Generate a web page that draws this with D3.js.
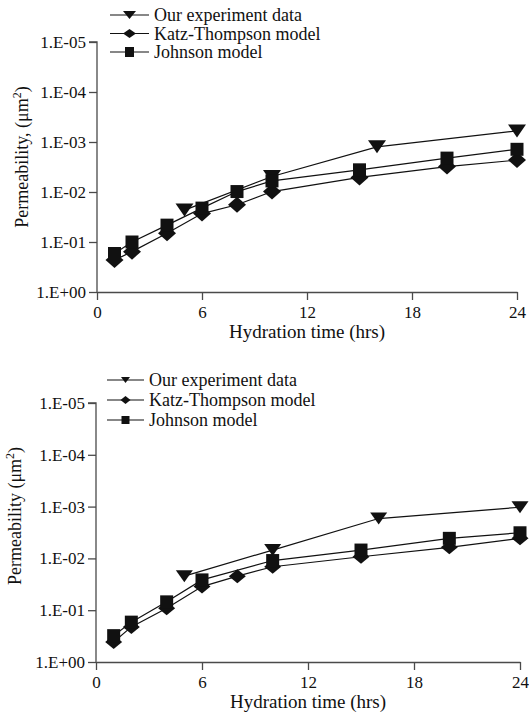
<!DOCTYPE html>
<html>
<head>
<meta charset="utf-8">
<script src="https://cdn.jsdelivr.net/npm/d3@7"></script>
<style>
  html, body { margin: 0; padding: 0; background: #fff; }
  svg { display: block; font-family: "Liberation Serif", "DejaVu Serif", serif; }
</style>
</head>
<body>
<svg id="chart" width="529" height="714"></svg>
<script>
// ---------- data ----------
const seriesNames = ["Our experiment data", "Katz-Thompson model", "Johnson model"];
const xTicks = [0, 6, 12, 18, 24];
const yTicks = [1, 1e-1, 1e-2, 1e-3, 1e-4, 1e-5];
const yTickLabels = ["1.E+00", "1.E-01", "1.E-02", "1.E-03", "1.E-04", "1.E-05"];

// top panel
const topExpHours = [5, 10, 16, 24];
const topExpValues = [0.023, 0.0049, 0.00125, 0.0006];
const topKatzHours = [1, 2, 4, 6, 8, 10, 15, 20, 24];
const topKatzValues = [0.23, 0.156, 0.067, 0.027, 0.018, 0.0098, 0.0051, 0.0031, 0.0023];
const topJohnHours = [1, 2, 4, 6, 8, 10, 15, 20, 24];
const topJohnValues = [0.17, 0.1, 0.046, 0.021, 0.0098, 0.006, 0.0036, 0.0021, 0.0014];

// bottom panel
const botExpHours = [5, 10, 16, 24];
const botExpValues = [0.022, 0.0069, 0.0017, 0.00103];
const botKatzHours = [1, 2, 4, 6, 8, 10, 15, 20, 24];
const botKatzValues = [0.41, 0.21, 0.092, 0.035, 0.022, 0.0145, 0.0093, 0.0061, 0.0041];
const botJohnHours = [1, 2, 4, 6, 10, 15, 20, 24];
const botJohnValues = [0.31, 0.17, 0.069, 0.026, 0.011, 0.0069, 0.0041, 0.0032];

// ---------- drawing ----------
const FONT = "Liberation Serif, DejaVu Serif, serif";
const svg = d3.select("#chart");
const AXIS = "#4a4a4a";
const INK = "#111";

function markerPath(type, w, h) {
  if (type === "tri") return `M${-w/2},${-h/2}L${w/2},${-h/2}L0,${h/2}Z`;
  if (type === "dia") return `M0,${-h/2}L${w/2},0L0,${h/2}L${-w/2},0Z`;
  return `M${-w/2},${-h/2}L${w/2},${-h/2}L${w/2},${h/2}L${-w/2},${h/2}Z`;
}

function drawPanel(cfg) {
  const g = svg.append("g");
  const x = d3.scaleLinear().domain([0, 24]).range([cfg.x0, cfg.x1]);
  const y = d3.scaleLog().domain([1, 1e-5]).range([cfg.yBottom, cfg.yTop]);

  // axes
  const yAxis = d3.axisLeft(y).tickValues(yTicks)
    .tickFormat((d, i) => yTickLabels[i]).tickSize(8).tickPadding(3);
  const gy = g.append("g").attr("transform", `translate(${cfg.x0},0)`).call(yAxis)
    .attr("font-family", FONT);
  gy.select(".domain").attr("stroke", AXIS).attr("stroke-width", 1.3)
    .attr("d", `M-8,${cfg.yTop}H0V${cfg.yBottom}`);
  gy.selectAll(".tick line").attr("stroke", AXIS).attr("stroke-width", 1.3);
  gy.selectAll(".tick text").attr("font-size", 17).attr("fill", INK);

  const xAxis = d3.axisBottom(x).tickValues(xTicks).tickSize(8).tickSizeOuter(0);
  const gx = g.append("g").attr("transform", `translate(0,${cfg.yBottom})`).call(xAxis)
    .attr("font-family", FONT);
  gx.select(".domain").attr("stroke", AXIS).attr("stroke-width", 1.3);
  gx.selectAll(".tick line").attr("stroke", AXIS).attr("stroke-width", 1.3);
  gx.selectAll(".tick text").attr("font-size", 17).attr("fill", INK)
    .attr("y", 26).attr("dy", 0);

  // axis titles
  g.append("text").attr("x", (cfg.x0 + cfg.x1) / 2).attr("y", cfg.yBottom + 46)
    .attr("text-anchor", "middle").attr("font-size", 19).attr("fill", INK)
    .attr("font-family", FONT).text("Hydration time (hrs)");
  const yt = g.append("text")
    .attr("transform", `translate(${cfg.ytX},${cfg.ytY}) rotate(-90)`)
    .attr("text-anchor", "middle").attr("font-size", 18).attr("fill", INK)
    .attr("font-family", FONT);
  yt.append("tspan").text(cfg.yTitle);
  yt.append("tspan").attr("font-size", 12).attr("dy", -7).text("2");
  yt.append("tspan").attr("dy", 7).text(")");

  // series
  const line = d3.line().x(d => x(d[0])).y(d => y(d[1]));
  cfg.series.forEach(s => {
    const pts = s.hours.map((h, i) => [h, s.values[i]]);
    g.append("path").datum(pts).attr("d", line)
      .attr("fill", "none").attr("stroke", INK).attr("stroke-width", 1.2);
  });
  cfg.series.forEach(s => {
    const pts = s.hours.map((h, i) => [h, s.values[i]]);
    g.selectAll(null).data(pts).enter().append("path")
      .attr("transform", d => `translate(${x(d[0])},${y(d[1])})`)
      .attr("d", markerPath(s.type, s.w, s.h)).attr("fill", INK);
  });

  // legend
  cfg.series.forEach((s, i) => {
    const ly = cfg.legY + i * cfg.legStep;
    g.append("line").attr("x1", cfg.legX0).attr("x2", cfg.legX1)
      .attr("y1", ly).attr("y2", ly).attr("stroke", INK).attr("stroke-width", 1.2);
    g.append("path").attr("transform", `translate(${(cfg.legX0 + cfg.legX1) / 2},${ly})`)
      .attr("d", markerPath(s.type, s.lw, s.lh)).attr("fill", INK);
    g.append("text").attr("x", cfg.legX1 + 5).attr("y", ly + 6)
      .attr("font-size", 18).attr("fill", INK).attr("font-family", FONT)
      .text(seriesNames[i]);
  });
}

drawPanel({
  x0: 97, x1: 517, yBottom: 292, yTop: 42,
  ytX: 28, ytY: 157, yTitle: "Permeability, (\u03bcm",
  legY: 15, legStep: 18.5, legX0: 110, legX1: 149,
  series: [
    { hours: topExpHours, values: topExpValues, type: "tri", w: 18, h: 13, lw: 13, lh: 8 },
    { hours: topKatzHours, values: topKatzValues, type: "dia", w: 18, h: 16, lw: 13, lh: 9 },
    { hours: topJohnHours, values: topJohnValues, type: "sq", w: 13, h: 13, lw: 9, lh: 10 }
  ]
});

drawPanel({
  x0: 96, x1: 520, yBottom: 662, yTop: 403,
  ytX: 21, ytY: 516, yTitle: "Permeability (\u03bcm",
  legY: 380, legStep: 20, legX0: 107, legX1: 144,
  series: [
    { hours: botExpHours, values: botExpValues, type: "tri", w: 17, h: 12, lw: 9, lh: 6 },
    { hours: botKatzHours, values: botKatzValues, type: "dia", w: 17, h: 14, lw: 10, lh: 8 },
    { hours: botJohnHours, values: botJohnValues, type: "sq", w: 13, h: 13, lw: 8, lh: 8 }
  ]
});
</script>
</body>
</html>
